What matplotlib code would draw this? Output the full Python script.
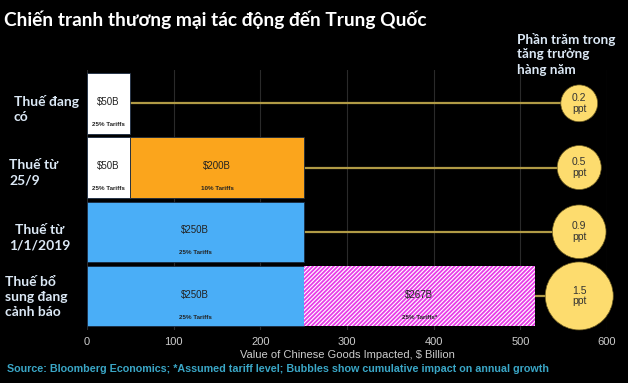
import matplotlib.pyplot as plt
import numpy as np

# data
rows = ["Thuế đang\ncó", "Thuế từ\n25/9", "Thuế từ\n1/1/2019", "Thuế bổ\nsung đang\ncảnh báo"]
base_vals = [50, 50, 250, 250]
base_labels = ["$50B", "$50B", "$250B", "$250B"]
extra_vals = [0, 200, 0, 267]
extra_labels = ["", "$200B", "", "$267B"]
extra_tariffs = ["", "10% Tariffs", "", "25% Tariffs*"]
growth_ppt = [0.2, 0.5, 0.9, 1.5]
bubble_x = 568

plt.rcParams['font.family'] = ['Liberation Sans', 'DejaVu Sans']
plt.rcParams['hatch.linewidth'] = 1.3
viet = ["Lato", "DejaVu Sans"]

fig = plt.figure(figsize=(6.28, 3.83), dpi=100, facecolor="black")
ax = fig.add_axes([0.1385, 0.1384, 0.828, 0.679], facecolor="black")

y = np.arange(len(rows))
h = 0.94
base_colors = ["white", "white", "#4aaef7", "#4aaef7"]

ax.barh(y, base_vals, height=h, color=base_colors, edgecolor="#1a2a40", linewidth=0.6, zorder=3)
ax.barh(y[1], extra_vals[1], left=base_vals[1], height=h, color="#fba51c",
        edgecolor="#1a2a40", linewidth=0.6, zorder=3)
ax.barh(y[3], extra_vals[3], left=base_vals[3], height=h, color="white",
        edgecolor="#e83ce8", hatch="////////", linewidth=0, zorder=3)

for i in range(len(rows)):
    cx = base_vals[i] / 2
    ax.text(cx, y[i] - 0.02, base_labels[i], ha="center", va="center", fontsize=7, color="#222222", zorder=5)
    ax.text(cx, y[i] + 0.33, "25% Tariffs", ha="center", va="center", fontsize=4.5,
            fontweight="bold", color="#222222", zorder=5)
    if extra_vals[i]:
        ex = base_vals[i] + extra_vals[i] / 2
        ax.text(ex, y[i] - 0.02, extra_labels[i], ha="center", va="center", fontsize=7, color="#222222", zorder=5)
        ax.text(ex, y[i] + 0.33, extra_tariffs[i], ha="center", va="center", fontsize=4.5,
                fontweight="bold", color="#222222", zorder=5)
    end = base_vals[i] + extra_vals[i]
    ax.plot([end, bubble_x], [y[i], y[i]], color="#b09a45", lw=1.6, zorder=2)

# bubbles: radius in px grows with the growth impact
radius_px = [16 + 12 * g for g in growth_ppt]
sizes = [(2 * r * 0.72) ** 2 for r in radius_px]
ax.scatter([bubble_x] * len(rows), y, s=sizes, color="#fddc6e", edgecolor="#6a5a20",
           linewidth=0.5, zorder=4, clip_on=False)
for i, g in enumerate(growth_ppt):
    ax.text(bubble_x, y[i], f"{g}\nppt", ha="center", va="center", fontsize=7.5,
            color="#333333", linespacing=1.1, zorder=5)

ax.set_xlim(0, 600)
ax.set_ylim(3.53, -0.52)
ax.set_xticks(range(0, 601, 100))
ax.set_yticks([])
ax.grid(axis="x", color="#2a2a2a", lw=0.8, zorder=0)
for s in ax.spines.values():
    s.set_visible(False)
ax.tick_params(axis="x", length=0, colors="#cccccc", labelsize=8, pad=5)
ax.set_xlabel("Value of Chinese Goods Impacted, $ Billion", color="#cccccc", fontsize=8, labelpad=2)

# left labels
label_pos = [(14, 109, "left"), (9, 173, "left"), (40, 238, "center"), (5, 297, "left")]
for (px, py, al), txt in zip(label_pos, rows):
    fig.text(px / 628, 1 - py / 383, txt, ha=al, va="center", multialignment=al, fontsize=10,
             fontweight="bold", color="#dbe8f5", family=viet, linespacing=1.3)

fig.text(4 / 628, 1 - 20 / 383, "Chiến tranh thương mại tác động đến Trung Quốc", ha="left", va="center",
         fontsize=13.8, fontweight="bold", color="white", family=viet)
fig.text(517 / 628, 1 - 54 / 383, "Phần trăm trong\ntăng trưởng\nhàng năm", ha="left", va="center",
         fontsize=9.7, fontweight="bold", color="#dbe8f5", family=viet, linespacing=1.3)
fig.text(7 / 628, 1 - 369 / 383,
         "Source: Bloomberg Economics; *Assumed tariff level; Bubbles show cumulative impact on annual growth",
         ha="left", va="center", fontsize=7.75, fontweight="bold", color="#3aa6c6")

fig.savefig("out.png", dpi=100, facecolor="black")
